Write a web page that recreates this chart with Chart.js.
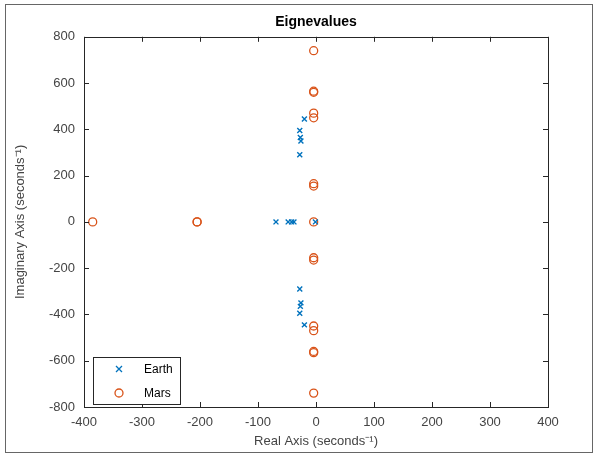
<!DOCTYPE html>
<html>
<head>
<meta charset="utf-8">
<script src="https://cdn.jsdelivr.net/npm/chart.js@4.4.1/dist/chart.umd.min.js"></script>
<style>
  body { margin: 0; background: #fff; }
  #wrap { position: relative; width: 598px; height: 456px; }
  #frame { position: absolute; left: 5px; top: 4px; width: 586px; height: 447px; border: 1px solid #666; pointer-events: none; }
</style>
</head>
<body>
<div id="wrap">
  <canvas id="chart" width="598" height="456"></canvas>
  <div id="frame"></div>
</div>
<script>
// eigenvalues (real, imaginary parts)
const earthRe = [-20, -28, -27, -26, -28, -69, -48, -42, -38, -1, -28, -26, -27, -28, -20];
const earthIm = [445, 395, 365, 350, 290, 0, 0, 0, 0, 0, -290, -350, -365, -395, -445];

const marsRe = [-4, -4, -4, -4, -4, -4, -4, -4, -4, -4, -4, -4, -4, -4, -4, -385, -205, -205];
const marsIm = [740, 565, 560, 470, 450, 165, 155, 0, -155, -165, -450, -470, -560, -565, -740, 0, 0, 0];

const xTicks = [-400, -300, -200, -100, 0, 100, 200, 300, 400];
const yTicks = [-800, -600, -400, -200, 0, 200, 400, 600, 800];

const blue = '#0072BD';
const orange = '#D95319';
const axisColor = '#262626';
const labelColor = '#444444';

function toPoints(xs, ys) {
    return xs.map((x, i) => ({ x: x, y: ys[i] }));
}

// MATLAB style box with inward tick marks
const boxPlugin = {
    id: 'box',
    afterDraw(chart) {
        const ctx = chart.ctx;
        const a = chart.chartArea;
        const xs = chart.scales.x, ys = chart.scales.y;
        ctx.save();
        ctx.strokeStyle = axisColor;
        ctx.lineWidth = 1;
        ctx.strokeRect(Math.round(a.left) + 0.5, Math.round(a.top) + 0.5,
            Math.round(a.right - a.left), Math.round(a.bottom - a.top));
        ctx.beginPath();
        xTicks.forEach(v => {
            const px = Math.round(xs.getPixelForValue(v)) + 0.5;
            ctx.moveTo(px, a.bottom); ctx.lineTo(px, a.bottom - 5);
            ctx.moveTo(px, a.top); ctx.lineTo(px, a.top + 5);
        });
        yTicks.forEach(v => {
            const py = Math.round(ys.getPixelForValue(v)) + 0.5;
            ctx.moveTo(a.left, py); ctx.lineTo(a.left + 5, py);
            ctx.moveTo(a.right, py); ctx.lineTo(a.right - 5, py);
        });
        ctx.stroke();
        ctx.restore();
    }
};

// legend box inside the lower left of the plot
const legendBox = {
    id: 'legendBox',
    afterDraw(chart) {
        const ctx = chart.ctx;
        const a = chart.chartArea;
        const x0 = a.left + 9, y0 = a.bottom - 50, w = 87, h = 47;
        ctx.save();
        ctx.fillStyle = '#fff';
        ctx.fillRect(x0, y0, w, h);
        ctx.strokeStyle = axisColor;
        ctx.lineWidth = 1;
        ctx.strokeRect(Math.round(x0) + 0.5, Math.round(y0) + 0.5, w, h);
        ctx.font = '12px "Liberation Sans", Arial, sans-serif';
        ctx.fillStyle = '#000';
        ctx.textBaseline = 'middle';
        chart.data.datasets.forEach((ds, i) => {
            const cy = y0 + 12 + i * 24;
            const mx = x0 + 26;
            ctx.strokeStyle = ds.borderColor;
            ctx.lineWidth = 1.3;
            ctx.beginPath();
            if (ds.pointStyle === 'crossRot') {
                ctx.moveTo(mx - 3, cy - 3); ctx.lineTo(mx + 3, cy + 3);
                ctx.moveTo(mx + 3, cy - 3); ctx.lineTo(mx - 3, cy + 3);
            } else {
                ctx.arc(mx, cy, 4, 0, Math.PI * 2);
            }
            ctx.stroke();
            ctx.fillText(ds.label, x0 + 51, cy + 1);
        });
        ctx.restore();
    }
};

const tickFont = { family: '"Liberation Sans", Arial, sans-serif', size: 13 };

const config = {
    type: 'scatter',
    data: {
        datasets: [{
            label: 'Earth',
            data: toPoints(earthRe, earthIm),
            pointStyle: 'crossRot',
            pointRadius: 3.5,
            pointBorderWidth: 1.4,
            borderColor: blue,
            backgroundColor: blue
        }, {
            label: 'Mars',
            data: toPoints(marsRe, marsIm),
            pointStyle: 'circle',
            pointRadius: 4,
            pointBorderWidth: 1.3,
            borderColor: orange,
            backgroundColor: 'rgba(0,0,0,0)'
        }]
    },
    options: {
        responsive: false,
        animation: false,
        layout: { padding: { left: 0, right: 50, top: 4, bottom: 0 } },
        plugins: {
            legend: { display: false },
            tooltip: { enabled: false },
            title: {
                display: true,
                text: 'Eignevalues',
                fullSize: false,
                color: '#000',
                font: { family: '"Liberation Sans", Arial, sans-serif', size: 14, weight: 'bold' },
                padding: { top: 10, bottom: 6 }
            }
        },
        scales: {
            x: {
                type: 'linear',
                min: -400, max: 400,
                afterBuildTicks: s => { s.ticks = xTicks.map(v => ({ value: v })); },
                afterFit: s => { s.height = 49; },
                grid: { display: false, drawTicks: false },
                border: { display: false },
                ticks: { color: labelColor, font: tickFont, padding: 8, maxRotation: 0 },
                title: {
                    display: true,
                    text: 'Real Axis (seconds⁻¹)',
                    color: labelColor,
                    font: tickFont,
                    padding: { top: 0, bottom: 7 }
                }
            },
            y: {
                type: 'linear',
                min: -800, max: 800,
                afterBuildTicks: s => { s.ticks = yTicks.map(v => ({ value: v })); },
                afterFit: s => { s.width = 84; },
                grid: { display: false, drawTicks: false },
                border: { display: false },
                ticks: { color: labelColor, font: tickFont, padding: 9 },
                title: {
                    display: true,
                    text: 'Imaginary Axis (seconds⁻¹)',
                    color: labelColor,
                    font: tickFont,
                    padding: { top: 13, bottom: 0 }
                }
            }
        }
    },
    plugins: [boxPlugin, legendBox]
};

new Chart(document.getElementById('chart'), config);
</script>
</body>
</html>
